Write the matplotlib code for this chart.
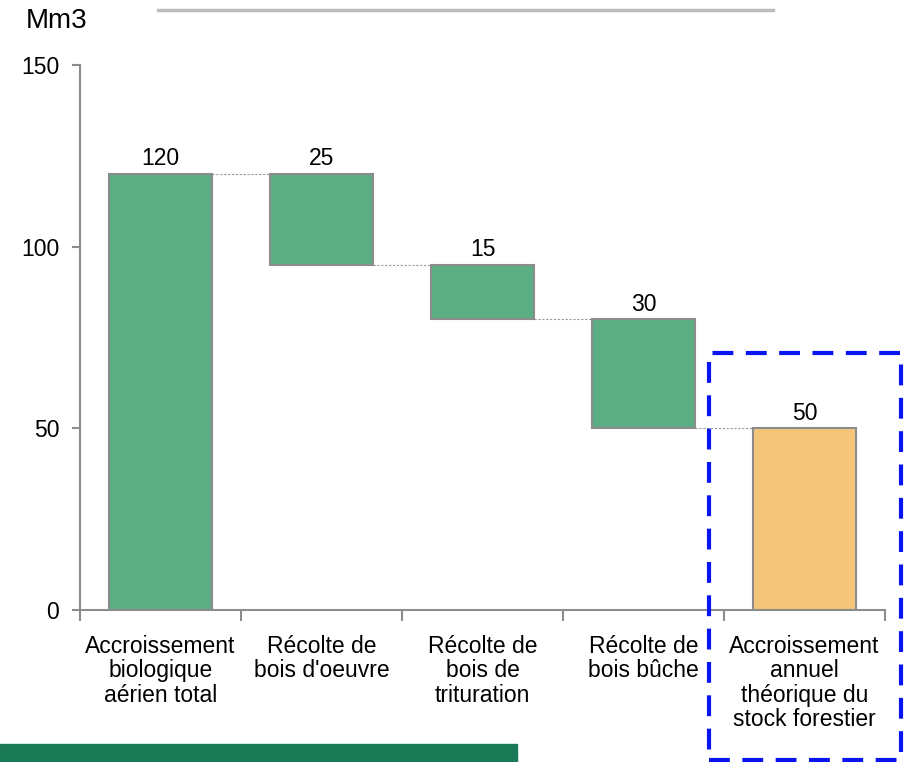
import matplotlib
matplotlib.use("Agg")
import matplotlib.pyplot as plt
from matplotlib.patches import Rectangle

plt.rcParams['font.family'] = ['Liberation Sans', 'DejaVu Sans']

categories = ["Accroissement\nbiologique\naérien total",
              "Récolte de\nbois d'oeuvre",
              "Récolte de\nbois de\ntrituration",
              "Récolte de\nbois bûche",
              "Accroissement\nannuel\nthéorique du\nstock forestier"]
values = [120, -25, -15, -30, 50]
labels = ["120", "25", "15", "30", "50"]
kinds = ["total", "delta", "delta", "delta", "total"]
y_ticks = [0, 50, 100, 150]

green = "#5BAE84"
orange = "#F3C67A"
edge = "#8C8C8C"

fig = plt.figure(figsize=(9.07, 7.62), dpi=100)
ax = fig.add_axes([80/907, 1-610/762, 805/907, 545/762])

bottoms, heights = [], []
running = 0
for v, k in zip(values, kinds):
    if k == "total":
        bottoms.append(0); heights.append(v); running = v
    else:
        new = running + v
        bottoms.append(min(running, new)); heights.append(abs(v)); running = new

x = list(range(len(categories)))
colors = [green, green, green, green, orange]
ax.bar(x, heights, bottom=bottoms, width=0.64, color=colors, edgecolor=edge, linewidth=1.5, zorder=3)

for i in range(len(x)):
    top = bottoms[i] + heights[i]
    ax.text(x[i], top + 1.0, labels[i], ha='center', va='bottom', fontsize=16.5)

# connectors
levels = []
running = 0
for v, k in zip(values, kinds):
    running = v if k == "total" else running + v
    levels.append(running)
for i in range(len(x) - 1):
    ax.plot([x[i] + 0.32, x[i + 1] - 0.32], [levels[i], levels[i]], color='#9a9a9a',
            linestyle=(0, (2, 1.5)), linewidth=0.8, zorder=2)

ax.set_xlim(-0.5, len(categories) - 0.5)
ax.set_ylim(0, 150)
ax.set_yticks(y_ticks)
ax.set_yticklabels([str(t) for t in y_ticks], fontsize=16.5)
ax.set_xticks([i - 0.5 for i in range(len(categories) + 1)])
ax.set_xticklabels([])
ax.set_xticks(x, minor=True)
ax.set_xticklabels(categories, minor=True, fontsize=16.5, linespacing=1.08)
ax.tick_params(axis='x', which='minor', length=0, pad=18)
ax.tick_params(axis='x', which='major', length=8, color=edge, width=1.5)
ax.tick_params(axis='y', length=6, color=edge, width=1.5, pad=9)
for s in ['top', 'right']:
    ax.spines[s].set_visible(False)
for s in ['left', 'bottom']:
    ax.spines[s].set_color(edge)
    ax.spines[s].set_linewidth(1.5)

fig.text(87/907, 1-21/762, "Mm3", ha='right', va='center', fontsize=20)

# top grey line
fig.add_artist(plt.Line2D([158/907, 773/907], [1-10/762, 1-10/762], color='#bdbdbd', linewidth=2.5))
# bottom green band
fig.add_artist(Rectangle((0, 0), 517/907, 18/762, transform=fig.transFigure, color='#1A7A58'))
# blue dashed highlight box
fig.add_artist(Rectangle((709/907, 1-760/762), 192/907, 407/762, transform=fig.transFigure,
                         fill=False, edgecolor='#0A14F0', linewidth=3, linestyle=(0, (5, 3))))

fig.savefig("out.png", dpi=100)
